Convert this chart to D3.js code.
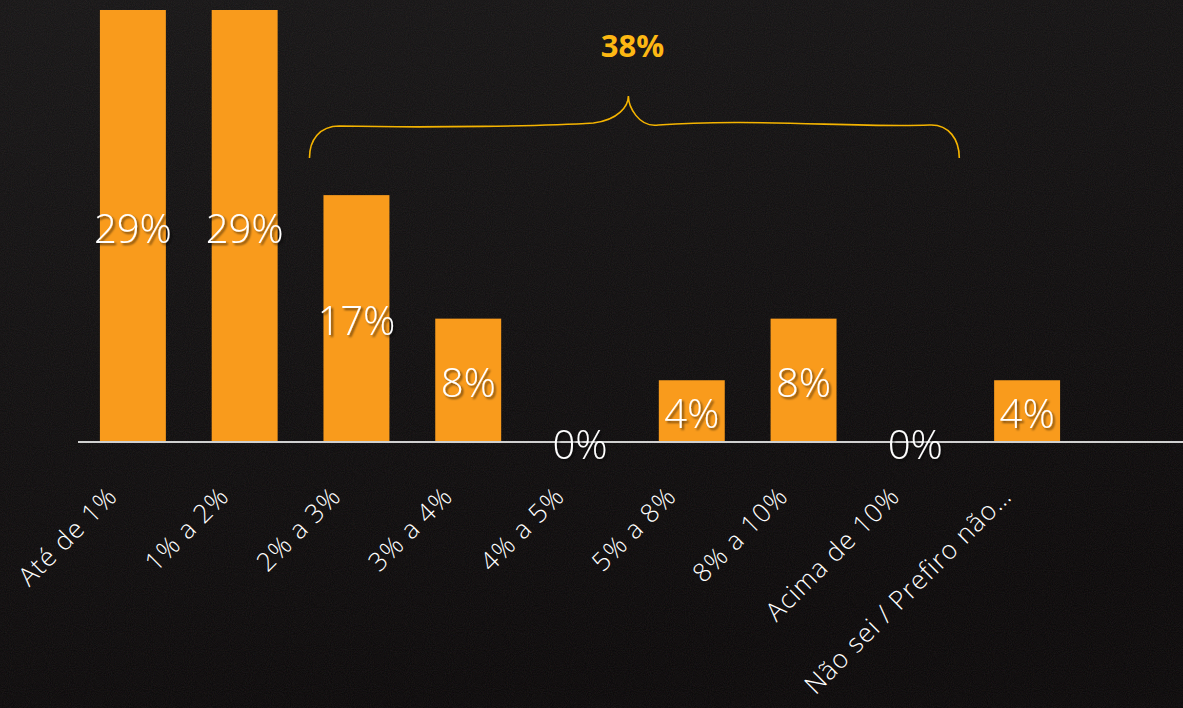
<!DOCTYPE html>
<html>
<head>
<meta charset="utf-8">
<script src="https://cdn.jsdelivr.net/npm/d3@7"></script>
<style>
  body { margin: 0; background: #0e0e0e; overflow: hidden; }
  svg { display: block; }
  .value { font-family: "Open Sans", "DejaVu Sans", sans-serif; font-weight: 300; fill: #fff; }
  .cat text { font-family: "Open Sans", "DejaVu Sans", sans-serif; font-weight: 300; fill: #fff; }
</style>
</head>
<body>
<div id="chart"></div>
<script>
// Data (share of answers, %)
const categories = ["Até de 1%", "1% a 2%", "2% a 3%", "3% a 4%", "4% a 5%",
                    "5% a 8%", "8% a 10%", "Acima de 10%", "Não sei / Prefiro não…"];
const values = [29.17, 29.17, 16.67, 8.33, 0, 4.17, 8.33, 0, 4.17];
const braceLabel = "38%";
const braceFrom = "2% a 3%";
const braceTo = "Acima de 10%";

const W = 1183, H = 708;
const baseY = 442;

const svg = d3.select("#chart")
    .append("svg")
    .attr("width", W)
    .attr("height", H);

const defs = svg.append("defs");

// background gradient + grain
const bg = defs.append("linearGradient").attr("id", "bg")
    .attr("x1", 0).attr("y1", 0).attr("x2", 0.3).attr("y2", 1);
bg.append("stop").attr("offset", 0).attr("stop-color", "#141414");
bg.append("stop").attr("offset", 1).attr("stop-color", "#080707");

const grain = defs.append("filter").attr("id", "grain")
    .attr("x", 0).attr("y", 0).attr("width", "100%").attr("height", "100%");
grain.append("feTurbulence").attr("type", "fractalNoise")
    .attr("baseFrequency", 0.95).attr("numOctaves", 2).attr("seed", 3);
grain.append("feColorMatrix").attr("type", "matrix")
    .attr("values", "0.5 0 0 0 0  0 0.35 0 0 0  0 0 0.4 0 0  0 0 0 0.16 0");

const shadow = defs.append("filter").attr("id", "shadow")
    .attr("x", "-20%").attr("y", "-20%").attr("width", "140%").attr("height", "140%");
shadow.append("feDropShadow").attr("dx", 2).attr("dy", 2)
    .attr("stdDeviation", 1).attr("flood-color", "#000").attr("flood-opacity", 0.55);

svg.append("rect").attr("width", W).attr("height", H).attr("fill", "url(#bg)");
svg.append("rect").attr("width", W).attr("height", H).attr("filter", "url(#grain)");

// Scales
const x = d3.scaleBand()
    .domain(categories)
    .range([77, 1083])
    .paddingInner(0.41)
    .paddingOuter(0.205);

const y = d3.scaleLinear()
    .domain([0, 29.17])
    .range([baseY, 10]);

const data = categories.map((c, i) => ({ cat: c, value: values[i] }));

// Bars
svg.selectAll(".bar")
    .data(data)
    .enter()
    .append("rect")
    .attr("class", "bar")
    .attr("x", d => x(d.cat))
    .attr("y", d => y(d.value))
    .attr("width", x.bandwidth())
    .attr("height", d => baseY - y(d.value))
    .attr("fill", "#F99B1C");

// Baseline
svg.append("line")
    .attr("x1", 78).attr("x2", W)
    .attr("y1", baseY).attr("y2", baseY)
    .attr("stroke", "#d0d0d0")
    .attr("stroke-width", 2);

// Category axis, rotated labels
const axis = svg.append("g")
    .attr("class", "cat")
    .attr("transform", `translate(0, ${baseY})`)
    .call(d3.axisBottom(x).tickSize(0));
axis.select(".domain").remove();
axis.selectAll("text")
    .attr("font-size", 26)
    .attr("letter-spacing", 1)
    .attr("text-anchor", "end")
    .attr("dy", null)
    .attr("y", 0)
    .attr("transform", "translate(-14, 56) rotate(-45)");

// Value labels in the middle of each bar
svg.selectAll(".value")
    .data(data)
    .enter()
    .append("text")
    .attr("class", "value")
    .attr("x", d => x(d.cat) + x.bandwidth() / 2)
    .attr("y", d => (y(d.value) + baseY) / 2 + 6)
    .attr("text-anchor", "middle")
    .attr("dominant-baseline", "middle")
    .attr("font-size", 40)
    .attr("filter", "url(#shadow)")
    .text(d => Math.round(d.value) + "%");

// Curly brace over the 2%..10% group
const bx0 = x(braceFrom) - 14;
const bx1 = x(braceTo) + x.bandwidth() + 11;
const bm = (bx0 + bx1) / 2 - 6;
const bTop = 126, bBot = 158, bTip = 96;
const brace = d3.path();
brace.moveTo(bx0, bBot);
brace.bezierCurveTo(bx0, 140, bx0 + 10, bTop, bx0 + 30, bTop);
brace.bezierCurveTo(bx0 + 120, bTop + 2, bm - 80, bTop, bm - 35, bTop - 3);
brace.bezierCurveTo(bm - 10, bTop - 6, bm, bTip + 10, bm, bTip);
brace.bezierCurveTo(bm, bTip + 10, bm + 10, bTop + 2, bm + 30, bTop - 1);
brace.bezierCurveTo(bm + 120, bTop - 8, bx1 - 100, bTop + 2, bx1 - 30, bTop - 1);
brace.bezierCurveTo(bx1 - 10, bTop - 2, bx1, 140, bx1, bBot);
svg.append("path")
    .attr("d", brace.toString())
    .attr("fill", "none")
    .attr("stroke", "#F5B400")
    .attr("stroke-width", 1.6);

svg.append("text")
    .attr("x", bm + 4)
    .attr("y", 57)
    .attr("text-anchor", "middle")
    .attr("font-family", "'Open Sans', 'DejaVu Sans', sans-serif")
    .attr("font-weight", 700)
    .attr("font-size", 31)
    .attr("fill", "#FDB813")
    .text(braceLabel);
</script>
</body>
</html>
